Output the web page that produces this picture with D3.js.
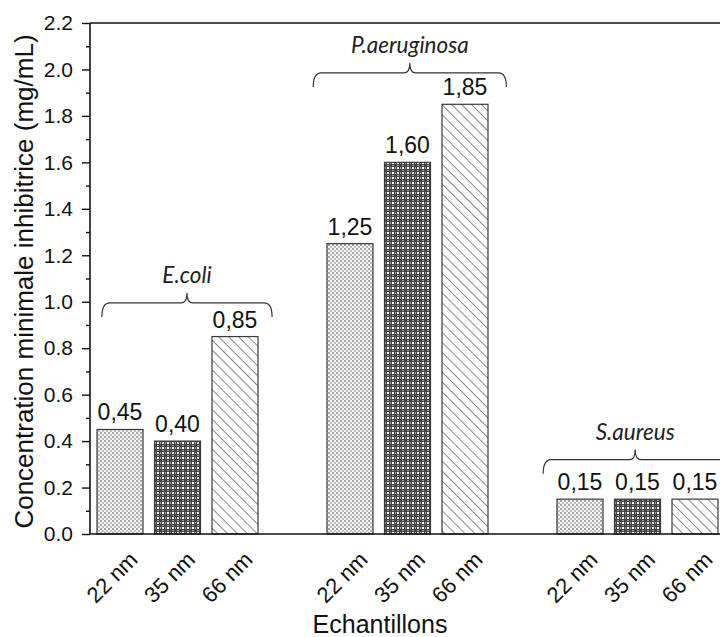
<!DOCTYPE html>
<html>
<head>
<meta charset="utf-8">
<script src="https://cdn.jsdelivr.net/npm/d3@7"></script>
<style>
  html, body { margin: 0; padding: 0; background: #fff; }
  svg { display: block; }
</style>
</head>
<body>
<div id="chart"></div>
<script>
// ---- data ----
const groups = ["E.coli", "P.aeruginosa", "S.aureus"];
const sizes = ["22 nm", "35 nm", "66 nm"];
const ecoli = [0.45, 0.40, 0.85];
const paeruginosa = [1.25, 1.60, 1.85];
const saureus = [0.15, 0.15, 0.15];
const seriesByGroup = [ecoli, paeruginosa, saureus];
const yMajorTicks = [0.0, 0.2, 0.4, 0.6, 0.8, 1.0, 1.2, 1.4, 1.6, 1.8, 2.0, 2.2];
const yMinorTicks = [0.1, 0.3, 0.5, 0.7, 0.9, 1.1, 1.3, 1.5, 1.7, 1.9, 2.1];

// ---- layout ----
const W = 720, H = 637;
const plotLeft = 90, plotTop = 23, plotBottom = 534, plotRight = 760;
const svg = d3.select("#chart").append("svg").attr("width", W).attr("height", H);

// slot scale: each group takes 4 slots (3 bars + gap)
const x = d3.scaleLinear().domain([0, 10]).range([120, 695]);
const y = d3.scaleLinear().domain([0, 2.2]).range([plotBottom, plotTop]);
const barW = x(0.8) - x(0);

// ---- patterns ----
const defs = svg.append("defs");
const p22 = defs.append("pattern").attr("id", "p22").attr("patternUnits", "userSpaceOnUse")
  .attr("width", 4).attr("height", 4);
p22.append("rect").attr("width", 4).attr("height", 4).attr("fill", "#f4f4f4");
p22.append("rect").attr("x", 0).attr("y", 0).attr("width", 2).attr("height", 2).attr("fill", "#a6a6a6");
p22.append("rect").attr("x", 2).attr("y", 2).attr("width", 2).attr("height", 2).attr("fill", "#bdbdbd");

const p35 = defs.append("pattern").attr("id", "p35").attr("patternUnits", "userSpaceOnUse")
  .attr("width", 5).attr("height", 5);
p35.append("rect").attr("width", 5).attr("height", 5).attr("fill", "#454545");
p35.append("rect").attr("x", 2).attr("y", 2).attr("width", 2).attr("height", 2).attr("fill", "#ffffff");
p35.append("rect").attr("x", 2).attr("y", 0).attr("width", 2).attr("height", 1).attr("fill", "#a0a0a0");
p35.append("rect").attr("x", 0).attr("y", 2).attr("width", 1).attr("height", 2).attr("fill", "#a0a0a0");

const p66 = defs.append("pattern").attr("id", "p66").attr("patternUnits", "userSpaceOnUse")
  .attr("width", 7).attr("height", 10).attr("patternTransform", "rotate(-45)");
p66.append("rect").attr("width", 7).attr("height", 10).attr("fill", "#fff");
p66.append("line").attr("x1", 0.5).attr("x2", 0.5).attr("y1", 0).attr("y2", 10)
  .attr("stroke", "#8a8a8a").attr("stroke-width", 1);

const fills = ["url(#p22)", "url(#p35)", "url(#p66)"];

// ---- bars ----
const bars = [];
seriesByGroup.forEach((vals, gi) => {
  vals.forEach((v, si) => bars.push({ group: groups[gi], size: sizes[si], si, slot: gi * 4 + si, value: v }));
});

svg.append("g").selectAll("rect").data(bars).join("rect")
  .attr("x", d => x(d.slot) - barW / 2)
  .attr("y", d => y(d.value))
  .attr("width", barW)
  .attr("height", d => y(0) - y(d.value))
  .attr("fill", d => fills[d.si])
  .attr("stroke", "#3a3a3a")
  .attr("stroke-width", 1.2);

const fmtComma = v => d3.format(".2f")(v).replace(".", ",");
svg.append("g").selectAll("text").data(bars).join("text")
  .attr("x", d => x(d.slot))
  .attr("y", d => y(d.value) - 9)
  .attr("text-anchor", "middle")
  .attr("font-family", "Liberation Sans, Arial, sans-serif")
  .attr("font-size", 23)
  .attr("fill", "#111")
  .text(d => fmtComma(d.value));

// ---- x labels (rotated) ----
svg.append("g").selectAll("text").data(bars).join("text")
  .attr("transform", d => `translate(${x(d.slot) + 19},${561}) rotate(-45)`)
  .attr("text-anchor", "end")
  .attr("font-family", "Liberation Sans, Arial, sans-serif")
  .attr("font-size", 22)
  .attr("fill", "#111")
  .text(d => d.size);

// ---- axes ----
const yAxis = d3.axisLeft(y).tickValues(yMajorTicks).tickSize(8).tickPadding(9)
  .tickFormat(d3.format(".1f"));
const gy = svg.append("g").attr("transform", `translate(${plotLeft},0)`).call(yAxis);
gy.select(".domain").remove();
gy.selectAll(".tick line").attr("stroke", "#111").attr("stroke-width", 1.4);
gy.selectAll(".tick text").attr("font-family", "Liberation Sans, Arial, sans-serif")
  .attr("font-size", 21).attr("fill", "#111");

const yMinor = d3.axisLeft(y).tickValues(yMinorTicks).tickSize(4).tickFormat("");
const gym = svg.append("g").attr("transform", `translate(${plotLeft},0)`).call(yMinor);
gym.select(".domain").remove();
gym.selectAll(".tick line").attr("stroke", "#111").attr("stroke-width", 1.4);

// frame lines
const frame = svg.append("g").attr("stroke", "#111").attr("stroke-width", 1.6).attr("fill", "none");
frame.append("line").attr("x1", plotLeft).attr("x2", plotLeft).attr("y1", y(2.2)).attr("y2", y(0));
frame.append("line").attr("x1", plotLeft).attr("x2", plotRight).attr("y1", y(0)).attr("y2", y(0));
frame.append("line").attr("x1", plotLeft).attr("x2", plotRight).attr("y1", y(2.2)).attr("y2", y(2.2));

// ---- brackets (annotation) ----
const bracketCenters = [1.165, 5.04, 8.96];
const bracketHalf = [1.48, 1.68, 1.6];
const bracketLevel = [0.995, 1.985, 0.32];
const braceG = svg.append("g");
groups.forEach((g, i) => {
  const cx = x(bracketCenters[i]);
  const l = cx - (x(bracketHalf[i]) - x(0));
  const r = cx + (x(bracketHalf[i]) - x(0));
  const yh = y(bracketLevel[i]);
  const path = `M${l},${yh + 14} Q${l},${yh} ${l + 8},${yh} L${cx - 6},${yh} Q${cx},${yh} ${cx},${yh - 10} Q${cx},${yh} ${cx + 6},${yh} L${r - 8},${yh} Q${r},${yh} ${r},${yh + 14}`;
  braceG.append("path").attr("d", path).attr("fill", "none").attr("stroke", "#333").attr("stroke-width", 1.2);
  braceG.append("text").attr("x", cx).attr("y", yh - 20)
    .attr("text-anchor", "middle")
    .attr("font-family", "Lato, 'Open Sans', sans-serif")
    .attr("font-style", "italic")
    .attr("font-size", 22.5)
    .attr("fill", "#222")
    .text(g);
});

// ---- axis titles ----
svg.append("text").attr("x", 380).attr("y", 633).attr("text-anchor", "middle")
  .attr("font-family", "Liberation Sans, Arial, sans-serif").attr("font-size", 25).attr("fill", "#111")
  .text("Echantillons");
svg.append("text").attr("transform", `translate(33,${(y(0) + y(2.2)) / 2 + 3}) rotate(-90)`)
  .attr("text-anchor", "middle")
  .attr("font-family", "Liberation Sans, Arial, sans-serif").attr("font-size", 26).attr("fill", "#111")
  .text("Concentration minimale inhibitrice (mg/mL)");
</script>
</body>
</html>
